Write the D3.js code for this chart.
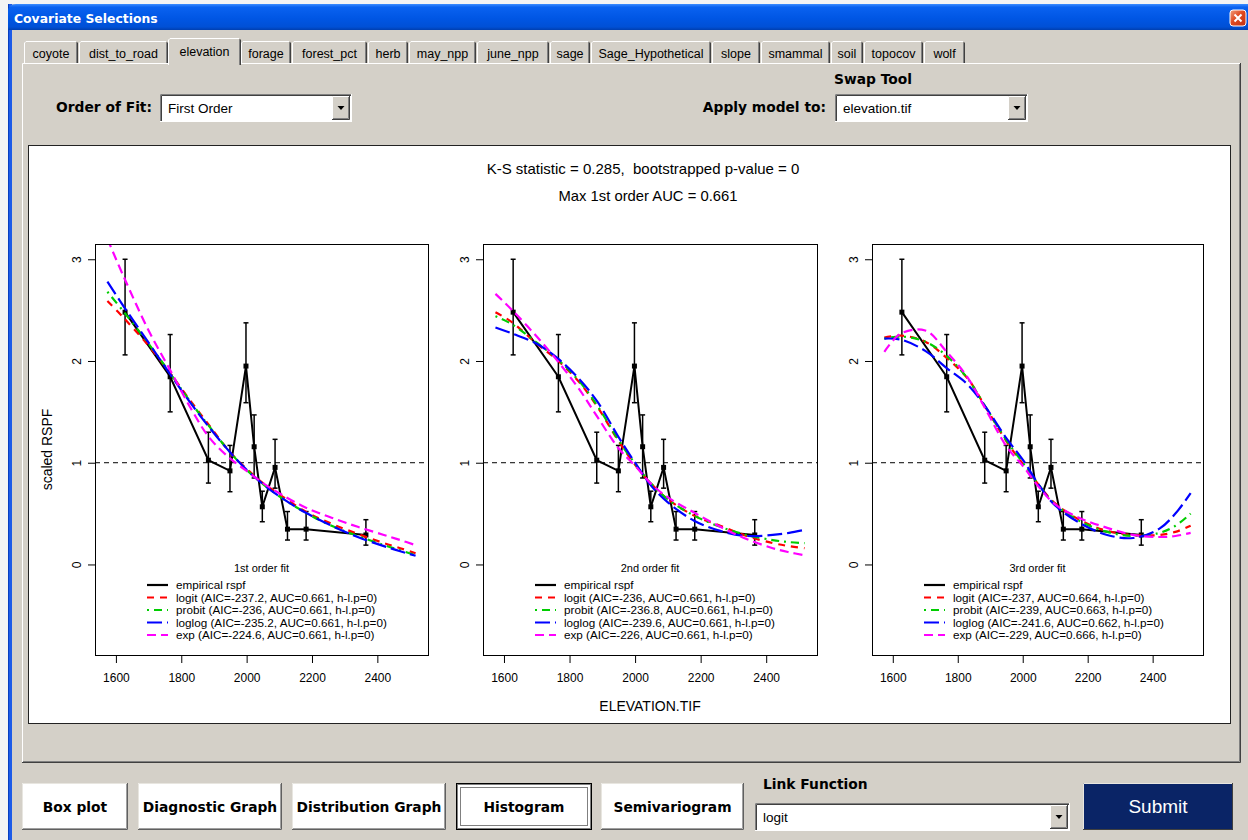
<!DOCTYPE html>
<html>
<head>
<meta charset="utf-8">
<script src="https://cdn.jsdelivr.net/npm/d3@7"></script>
<style>
  body { margin: 0; background: #f2f2f2; overflow: hidden; }
  svg { display: block; }
  .ui { font-family: "Liberation Sans", Arial, sans-serif; }
  .uib { font-family: "DejaVu Sans", Verdana, sans-serif; font-weight: bold; }
  .rplot text { font-family: "Liberation Sans", Arial, sans-serif; fill: #000; }
</style>
</head>
<body>
<svg id="chart" width="1248" height="840"></svg>
<script>
// ---- data ----
const tabNames = ["coyote", "dist_to_road", "elevation", "forage", "forest_pct", "herb", "may_npp",
  "june_npp", "sage", "Sage_Hypothetical", "slope", "smammal", "soil", "topocov", "wolf"];
const tabEdges = [24, 79, 169, 241, 292, 368, 409, 477, 550, 591, 712, 761, 831, 864, 924, 966];
const selectedTab = "elevation";

const buttonNames = ["Box plot", "Diagnostic Graph", "Distribution Graph", "Histogram", "Semivariogram"];
const buttonEdges = [[22, 128], [138, 282], [292, 446], [456, 592], [601, 744]];

// empirical rspf (bins)
const empElev = [1628, 1766, 1883, 1949, 1998, 2023, 2048, 2087, 2125, 2182, 2365];
const empValue = [2.48, 1.845, 1.025, 0.92, 1.95, 1.157, 0.567, 0.954, 0.347, 0.347, 0.29];
const empLow = [2.06, 1.50, 0.80, 0.715, 1.59, 0.85, 0.42, 0.75, 0.24, 0.24, 0.19];
const empHigh = [3.00, 2.26, 1.30, 1.17, 2.375, 1.47, 0.72, 1.23, 0.52, 0.52, 0.44];

// fitted curves
const fitElev = [1574, 1625, 1700, 1766, 1830, 1885, 1950, 2000, 2050, 2100, 2180, 2260, 2340, 2420, 2470, 2517];

const logit1 = [2.59, 2.42, 2.15, 1.88, 1.60, 1.37, 1.10, 0.94, 0.80, 0.69, 0.52, 0.40, 0.30, 0.21, 0.16, 0.11];
const probit1 = [2.68, 2.48, 2.17, 1.88, 1.59, 1.36, 1.10, 0.93, 0.79, 0.67, 0.51, 0.38, 0.28, 0.19, 0.14, 0.09];
const loglog1 = [2.78, 2.53, 2.18, 1.87, 1.58, 1.35, 1.10, 0.93, 0.79, 0.67, 0.51, 0.38, 0.27, 0.18, 0.13, 0.085];
const exp1 = [3.20, 2.82, 2.30, 1.91, 1.53, 1.25, 1.04, 0.92, 0.80, 0.70, 0.56, 0.46, 0.37, 0.29, 0.24, 0.19];

const logit2 = [2.48, 2.38, 2.17, 2.00, 1.79, 1.55, 1.21, 0.98, 0.79, 0.64, 0.48, 0.38, 0.28, 0.21, 0.18, 0.16];
const probit2 = [2.44, 2.36, 2.18, 2.01, 1.80, 1.56, 1.22, 0.99, 0.79, 0.64, 0.48, 0.37, 0.29, 0.24, 0.22, 0.21];
const loglog2 = [2.33, 2.27, 2.17, 2.02, 1.82, 1.60, 1.25, 1.00, 0.77, 0.61, 0.43, 0.33, 0.28, 0.29, 0.31, 0.34];
const exp2 = [2.66, 2.50, 2.24, 1.99, 1.72, 1.45, 1.14, 0.97, 0.79, 0.66, 0.51, 0.37, 0.25, 0.16, 0.12, 0.09];

const logit3 = [2.23, 2.25, 2.19, 2.03, 1.83, 1.55, 1.21, 0.99, 0.78, 0.60, 0.43, 0.33, 0.29, 0.29, 0.32, 0.38];
const probit3 = [2.22, 2.24, 2.19, 2.05, 1.83, 1.55, 1.22, 1.00, 0.78, 0.59, 0.42, 0.32, 0.28, 0.31, 0.38, 0.50];
const loglog3 = [2.22, 2.21, 2.10, 1.93, 1.77, 1.55, 1.24, 1.03, 0.78, 0.58, 0.40, 0.29, 0.26, 0.35, 0.50, 0.70];
const exp3 = [2.09, 2.27, 2.30, 2.09, 1.84, 1.53, 1.16, 0.97, 0.76, 0.59, 0.45, 0.36, 0.29, 0.27, 0.28, 0.31];

const legend1 = ["empirical rspf", "logit (AIC=-237.2, AUC=0.661, h-l.p=0)", "probit (AIC=-236, AUC=0.661, h-l.p=0)",
  "loglog (AIC=-235.2, AUC=0.661, h-l.p=0)", "exp (AIC=-224.6, AUC=0.661, h-l.p=0)"];
const legend2 = ["empirical rspf", "logit (AIC=-236, AUC=0.661, h-l.p=0)", "probit (AIC=-236.8, AUC=0.661, h-l.p=0)",
  "loglog (AIC=-239.6, AUC=0.661, h-l.p=0)", "exp (AIC=-226, AUC=0.661, h-l.p=0)"];
const legend3 = ["empirical rspf", "logit (AIC=-237, AUC=0.664, h-l.p=0)", "probit (AIC=-239, AUC=0.663, h-l.p=0)",
  "loglog (AIC=-241.6, AUC=0.662, h-l.p=0)", "exp (AIC=-229, AUC=0.666, h-l.p=0)"];

const subTitles = ["1st order fit", "2nd order fit", "3rd order fit"];
const xTicks = [1600, 1800, 2000, 2200, 2400];
const yTicks = [0, 1, 2, 3];

const seriesColors = ["#000000", "#ff0000", "#00cd00", "#0000ff", "#ff00ff"];
const seriesDash = [null, "7,6", "2,5,8,5", "15,5", "9,5"];

// ---- drawing ----
const svg = d3.select("#chart");
const grey = "#d4d0c8";

// desktop strip on the left / top
svg.append("rect").attr("width", 1248).attr("height", 840).attr("fill", "#f4f4f4");

// window body
svg.append("rect").attr("x", 8).attr("y", 4).attr("width", 1240).attr("height", 836).attr("fill", grey);
svg.append("rect").attr("x", 8).attr("y", 4).attr("width", 4).attr("height", 836).attr("fill", "#1c5be8");
svg.append("rect").attr("x", 8).attr("y", 4).attr("width", 1).attr("height", 836).attr("fill", "#0a3fbf");

// title bar
const defs = svg.append("defs");
const tg = defs.append("linearGradient").attr("id", "title").attr("x1", 0).attr("x2", 0).attr("y1", 0).attr("y2", 1);
tg.append("stop").attr("offset", "0%").attr("stop-color", "#3d8dff");
tg.append("stop").attr("offset", "12%").attr("stop-color", "#0a62f0");
tg.append("stop").attr("offset", "55%").attr("stop-color", "#0056e4");
tg.append("stop").attr("offset", "88%").attr("stop-color", "#0050d6");
tg.append("stop").attr("offset", "100%").attr("stop-color", "#003fb0");
svg.append("path")
  .attr("d", "M8,30 L8,12 Q8,4 16,4 L1248,4 L1248,30 Z")
  .attr("fill", "url(#title)");
svg.append("text").attr("class", "uib")
  .attr("x", 14).attr("y", 23)
  .attr("fill", "#fff").attr("font-size", 12.4)
  .text("Covariate Selections");
const cg = defs.append("linearGradient").attr("id", "closeg").attr("x1", 0).attr("x2", 1).attr("y1", 0).attr("y2", 1);
cg.append("stop").attr("offset", "0%").attr("stop-color", "#f0a080");
cg.append("stop").attr("offset", "45%").attr("stop-color", "#e04a20");
cg.append("stop").attr("offset", "100%").attr("stop-color", "#c03010");
svg.append("rect").attr("x", 1230).attr("y", 10).attr("width", 16).attr("height", 16).attr("rx", 3)
  .attr("fill", "url(#closeg)").attr("stroke", "#fff").attr("stroke-width", 1);
svg.append("path").attr("d", "M1234.5,14.5 L1241.5,21.5 M1241.5,14.5 L1234.5,21.5")
  .attr("stroke", "#fff").attr("stroke-width", 2);

// helpers
function raised(x, y, w, h, fill) {
  const g = svg.append("g");
  g.append("rect").attr("x", x).attr("y", y).attr("width", w).attr("height", h).attr("fill", fill || grey);
  g.append("path").attr("d", `M${x + 0.5},${y + h} L${x + 0.5},${y + 0.5} L${x + w},${y + 0.5}`)
    .attr("stroke", "#fff").attr("fill", "none");
  g.append("path").attr("d", `M${x},${y + h - 0.5} L${x + w - 0.5},${y + h - 0.5} L${x + w - 0.5},${y}`)
    .attr("stroke", "#404040").attr("fill", "none");
  g.append("path").attr("d", `M${x + 1},${y + h - 1.5} L${x + w - 1.5},${y + h - 1.5} L${x + w - 1.5},${y + 1}`)
    .attr("stroke", "#808080").attr("fill", "none");
  return g;
}

function dropdown(x, y, w, h, label) {
  const g = svg.append("g");
  g.append("rect").attr("x", x).attr("y", y).attr("width", w).attr("height", h).attr("fill", "#fff");
  g.append("path").attr("d", `M${x + 0.5},${y + h} L${x + 0.5},${y + 0.5} L${x + w},${y + 0.5}`)
    .attr("stroke", "#808080").attr("fill", "none");
  g.append("path").attr("d", `M${x + 1.5},${y + h - 1} L${x + 1.5},${y + 1.5} L${x + w - 1},${y + 1.5}`)
    .attr("stroke", "#404040").attr("fill", "none");
  g.append("path").attr("d", `M${x},${y + h - 0.5} L${x + w - 0.5},${y + h - 0.5} L${x + w - 0.5},${y}`)
    .attr("stroke", "#fff").attr("fill", "none");
  g.append("text").attr("class", "ui").attr("x", x + 8).attr("y", y + h / 2 + 5)
    .attr("font-size", 13.5).text(label);
  const bx = x + w - 20, by = y + 2, bw = 18, bh = h - 4;
  raised(bx, by, bw, bh);
  svg.append("path")
    .attr("d", `M${bx + 5.5},${by + bh / 2 - 2} L${bx + 12.5},${by + bh / 2 - 2} L${bx + 9},${by + bh / 2 + 2} Z`)
    .attr("fill", "#000");
}

// tab panel
raised(22, 63, 1219, 700);

// tabs
tabNames.forEach((name, i) => {
  const x0 = tabEdges[i], x1 = tabEdges[i + 1] - 1;
  const sel = name === selectedTab;
  const top = sel ? 38 : 41;
  const left = sel ? x0 - 1 : x0, right = sel ? x1 + 1 : x1;
  const bottom = sel ? 65 : 63;
  svg.append("rect").attr("x", left).attr("y", top).attr("width", right - left).attr("height", bottom - top)
    .attr("fill", grey);
  svg.append("path").attr("d", `M${left + 0.5},${bottom} L${left + 0.5},${top + 2} L${left + 2},${top + 0.5} L${right - 2},${top + 0.5}`)
    .attr("stroke", "#fff").attr("fill", "none");
  svg.append("path").attr("d", `M${right - 1.5},${top + 1} L${right - 0.5},${top + 2} L${right - 0.5},${bottom}`)
    .attr("stroke", "#404040").attr("fill", "none");
  svg.append("path").attr("d", `M${right - 1.5},${top + 2} L${right - 1.5},${bottom}`)
    .attr("stroke", "#808080").attr("fill", "none");
  svg.append("text").attr("class", "ui")
    .attr("x", (x0 + x1) / 2).attr("y", sel ? 56 : 58)
    .attr("text-anchor", "middle").attr("font-size", 12.5)
    .text(name);
});
// redraw the selected tab's bottom gap over the panel edge
{
  const i = tabNames.indexOf(selectedTab);
  svg.append("rect").attr("x", tabEdges[i]).attr("y", 62).attr("width", tabEdges[i + 1] - tabEdges[i] - 2).attr("height", 3)
    .attr("fill", grey);
}

// top controls
svg.append("text").attr("class", "uib").attr("x", 152).attr("y", 112).attr("text-anchor", "end")
  .attr("font-size", 13.8).text("Order of Fit:");
dropdown(160, 94, 192, 28, "First Order");
svg.append("text").attr("class", "uib").attr("x", 873).attr("y", 84).attr("text-anchor", "middle")
  .attr("font-size", 13.8).text("Swap Tool");
svg.append("text").attr("class", "uib").attr("x", 826).attr("y", 112).attr("text-anchor", "end")
  .attr("font-size", 13.8).text("Apply model to:");
dropdown(835, 94, 193, 28, "elevation.tif");

// ---- R plot region ----
const plot = svg.append("g").attr("class", "rplot");
plot.append("rect").attr("x", 28.5).attr("y", 145.5).attr("width", 1202).attr("height", 578)
  .attr("fill", "#fff").attr("stroke", "#222").attr("stroke-width", 1);

plot.append("text").attr("x", 643).attr("y", 174).attr("text-anchor", "middle").attr("font-size", 15)
  .attr("xml:space", "preserve")
  .text("K-S statistic = 0.285,  bootstrapped p-value = 0");
plot.append("text").attr("x", 648).attr("y", 201).attr("text-anchor", "middle").attr("font-size", 14.8)
  .text("Max 1st order AUC = 0.661");

const panelX = [[95, 428], [483, 817], [872, 1203]];
const boxTop = 244, boxBottom = 655;
const fitsByPanel = [
  [logit1, probit1, loglog1, exp1],
  [logit2, probit2, loglog2, exp2],
  [logit3, probit3, loglog3, exp3]
];
const legends = [legend1, legend2, legend3];

const y = d3.scaleLinear().domain([-0.89, 3.15]).range([boxBottom, boxTop]);

panelX.forEach((px, p) => {
  const x = d3.scaleLinear().domain([1536, 2555]).range(px);
  const g = plot.append("g");

  defs.append("clipPath").attr("id", "clip" + p)
    .append("rect").attr("x", px[0]).attr("y", boxTop).attr("width", px[1] - px[0]).attr("height", boxBottom - boxTop);

  // axes
  const ya = g.append("g").attr("transform", `translate(${px[0]},0)`)
    .call(d3.axisLeft(y).tickValues(yTicks).tickSize(7).tickPadding(0).tickFormat(d3.format("d")));
  ya.select(".domain").remove();
  ya.selectAll("line").attr("stroke", "#000");
  ya.selectAll("text")
    .attr("x", null).attr("dy", null)
    .attr("font-size", 12).attr("font-family", "Liberation Sans, Arial, sans-serif")
    .attr("text-anchor", "middle")
    .attr("transform", "translate(-14,0) rotate(-90)")
    .attr("y", 0);

  const xa = g.append("g").attr("transform", `translate(0,${boxBottom})`)
    .call(d3.axisBottom(x).tickValues(xTicks).tickSize(8).tickPadding(10).tickFormat(d3.format("d")));
  xa.select(".domain").remove();
  xa.selectAll("line").attr("stroke", "#000");
  xa.selectAll("text").attr("font-size", 12).attr("font-family", "Liberation Sans, Arial, sans-serif");

  // reference line at 1
  g.append("line").attr("x1", px[0]).attr("x2", px[1]).attr("y1", y(1)).attr("y2", y(1))
    .attr("stroke", "#000").attr("stroke-width", 1).attr("stroke-dasharray", "5,4");

  // empirical line, error bars, points
  const empLine = d3.line().x((d, i) => x(empElev[i])).y(d => y(d));
  g.append("path").datum(empValue).attr("d", empLine)
    .attr("fill", "none").attr("stroke", "#000").attr("stroke-width", 2);
  empElev.forEach((e, i) => {
    const cx = x(e);
    g.append("line").attr("x1", cx).attr("x2", cx).attr("y1", y(empLow[i])).attr("y2", y(empHigh[i]))
      .attr("stroke", "#000").attr("stroke-width", 1.5);
    [empLow[i], empHigh[i]].forEach(v => {
      g.append("line").attr("x1", cx - 2.5).attr("x2", cx + 2.5).attr("y1", y(v)).attr("y2", y(v))
        .attr("stroke", "#000").attr("stroke-width", 1.5);
    });
    g.append("rect").attr("x", cx - 2.5).attr("y", y(empValue[i]) - 2.5).attr("width", 5).attr("height", 5)
      .attr("fill", "#000");
  });

  // fitted curves
  const fitLine = d3.line().x((d, i) => x(fitElev[i])).y(d => y(d)).curve(d3.curveCatmullRom);
  const fg = g.append("g").attr("clip-path", `url(#clip${p})`);
  fitsByPanel[p].forEach((vals, k) => {
    fg.append("path").datum(vals).attr("d", fitLine)
      .attr("fill", "none").attr("stroke", seriesColors[k + 1]).attr("stroke-width", 2.2)
      .attr("stroke-dasharray", seriesDash[k + 1]);
  });

  // box
  g.append("rect").attr("x", px[0] + 0.5).attr("y", boxTop + 0.5)
    .attr("width", px[1] - px[0]).attr("height", boxBottom - boxTop)
    .attr("fill", "none").attr("stroke", "#000").attr("stroke-width", 1);

  // subtitle
  g.append("text").attr("x", (px[0] + px[1]) / 2).attr("y", 572).attr("text-anchor", "middle")
    .attr("font-size", 11).text(subTitles[p]);

  // legend
  legends[p].forEach((lab, k) => {
    const ly = 585 + k * 12.5;
    g.append("line").attr("x1", px[0] + 52).attr("x2", px[0] + 73).attr("y1", ly).attr("y2", ly)
      .attr("stroke", seriesColors[k]).attr("stroke-width", 2.2)
      .attr("stroke-dasharray", seriesDash[k]);
    g.append("text").attr("x", px[0] + 81).attr("y", ly + 4).attr("font-size", 11.7).text(lab);
  });
});

// axis titles
plot.append("text").attr("transform", `translate(52,${(boxTop + boxBottom) / 2}) rotate(-90)`)
  .attr("text-anchor", "middle").attr("font-size", 14).text("scaled RSPF");
plot.append("text").attr("x", 650).attr("y", 711).attr("text-anchor", "middle").attr("font-size", 14)
  .text("ELEVATION.TIF");

// ---- bottom buttons ----
buttonNames.forEach((name, i) => {
  const [x0, x1] = buttonEdges[i];
  const bg = svg.append("g");
  if (name === "Histogram") {
    bg.append("rect").attr("x", x0 + 0.5).attr("y", 783.5).attr("width", x1 - x0 - 1).attr("height", 46)
      .attr("fill", "#fff").attr("stroke", "#000").attr("stroke-width", 1);
    bg.append("rect").attr("x", x0 + 1.5).attr("y", 784.5).attr("width", x1 - x0 - 3).attr("height", 44)
      .attr("fill", "none").attr("stroke", "#808080");
    bg.append("rect").attr("x", x0 + 4.5).attr("y", 787.5).attr("width", x1 - x0 - 9).attr("height", 38)
      .attr("fill", "none").attr("stroke", "#000").attr("stroke-dasharray", "1,1");
  } else {
    bg.append("rect").attr("x", x0).attr("y", 783).attr("width", x1 - x0).attr("height", 47).attr("fill", "#fff");
    bg.append("path").attr("d", `M${x0 + 0.5},${830} L${x0 + 0.5},${783.5} L${x1},${783.5}`)
      .attr("stroke", "#e8e6e0").attr("fill", "none");
    bg.append("path").attr("d", `M${x0},${829.5} L${x1 - 0.5},${829.5} L${x1 - 0.5},${783}`)
      .attr("stroke", "#606060").attr("fill", "none");
    bg.append("path").attr("d", `M${x0 + 1},${828.5} L${x1 - 1.5},${828.5} L${x1 - 1.5},${784}`)
      .attr("stroke", "#a0a0a0").attr("fill", "none");
  }
  bg.append("text").attr("class", "uib").attr("x", (x0 + x1) / 2).attr("y", 812)
    .attr("text-anchor", "middle").attr("font-size", 13.8).text(name);
});

svg.append("text").attr("class", "uib").attr("x", 763).attr("y", 789)
  .attr("font-size", 13.8).text("Link Function");
dropdown(755, 803, 315, 28, "logit");

svg.append("rect").attr("x", 1083).attr("y", 783).attr("width", 150).attr("height", 47).attr("fill", "#0a2466");
svg.append("path").attr("d", "M1083.5,830 L1083.5,783.5 L1233,783.5").attr("stroke", "#e8e6e0").attr("fill", "none");
svg.append("path").attr("d", "M1083,829.5 L1232.5,829.5 L1232.5,783").attr("stroke", "#404040").attr("fill", "none");
svg.append("text").attr("class", "ui").attr("x", 1158).attr("y", 813).attr("text-anchor", "middle")
  .attr("fill", "#fff").attr("font-size", 19).text("Submit");
</script>
</body>
</html>
